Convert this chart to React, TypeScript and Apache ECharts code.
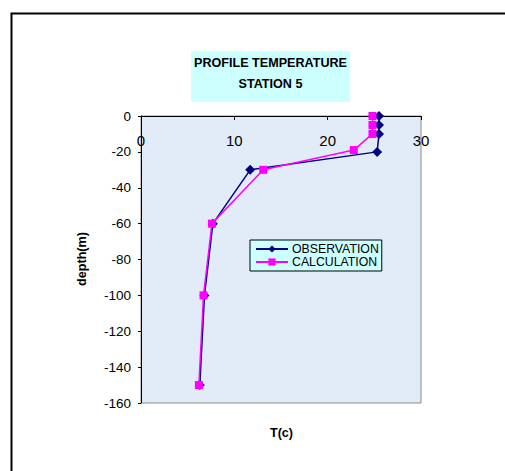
import React, { useEffect, useRef } from "react";
import * as echarts from "echarts";

const obsDepth = [0, -5, -10, -20, -30, -60, -100, -150];
const obsTemp = [25.5, 25.5, 25.5, 25.3, 11.7, 7.7, 6.8, 6.3];
const calcDepth = [0, -5, -10, -19, -30, -60, -100, -150];
const calcTemp = [24.8, 24.8, 24.8, 22.8, 13.1, 7.6, 6.7, 6.2];
const titleLines = ["PROFILE TEMPERATURE", "STATION 5"];
const seriesNames = ["OBSERVATION", "CALCULATION"];

export default function App() {
  const ref = useRef<HTMLDivElement>(null);
  useEffect(() => {
    if (!ref.current) return;
    const chart = echarts.init(ref.current, null, { renderer: "svg" });
    const font = "Arial, 'Liberation Sans', sans-serif";
    chart.setOption({
      animation: false,
      backgroundColor: "#ffffff",
      textStyle: { fontFamily: font },
      grid: {
        left: 141,
        top: 116,
        width: 280,
        height: 287,
        show: true,
        backgroundColor: "#e2ecf8",
        borderColor: "#8a8a8a",
        borderWidth: 1,
      },
      legend: {
        orient: "vertical",
        left: 250,
        top: 240,
        data: seriesNames,
        backgroundColor: "#ccffff",
        borderColor: "#000",
        borderWidth: 1,
        padding: [3, 3, 3, 5],
        itemGap: 1,
        itemWidth: 32,
        itemHeight: 9,
        textStyle: { fontSize: 12.3, color: "#000", fontFamily: font, padding: [0, 0, 0, -1] },
      },
      xAxis: {
        type: "value",
        position: "top",
        min: 0,
        max: 30,
        interval: 10,
        axisLine: { show: true, onZero: false, lineStyle: { color: "#000", width: 1 } },
        axisTick: { show: true, inside: true, length: 4, lineStyle: { color: "#000" } },
        axisLabel: { inside: true, margin: 17, fontSize: 15, color: "#000", fontFamily: font },
        splitLine: { show: false },
      },
      yAxis: {
        type: "value",
        min: -160,
        max: 0,
        interval: 20,
        axisLine: { show: true, onZero: false, lineStyle: { color: "#000", width: 1 } },
        axisTick: { show: true, inside: false, length: 3, lineStyle: { color: "#000" } },
        axisLabel: { margin: 10, fontSize: 13.5, color: "#000", fontFamily: font },
        splitLine: { show: false },
      },
      series: [
        {
          name: seriesNames[0],
          type: "line",
          data: obsTemp.map((t, i) => [t, obsDepth[i]]),
          color: "#000080",
          lineStyle: { color: "#000080", width: 1.5 },
          symbol: "diamond",
          symbolSize: 10,
          itemStyle: { color: "#000080" },
          z: 2,
        },
        {
          name: seriesNames[1],
          type: "line",
          data: calcTemp.map((t, i) => [t, calcDepth[i]]),
          color: "#ff00ff",
          lineStyle: { color: "#ff00ff", width: 1.5 },
          symbol: "rect",
          symbolSize: 8,
          itemStyle: { color: "#ff00ff" },
          z: 3,
        },
      ],
      graphic: [
        {
          type: "rect",
          left: 9,
          top: 11,
          shape: { width: 700, height: 700 },
          style: { fill: "none", stroke: "#000", lineWidth: 2 },
          z: 0,
          silent: true,
        },
        {
          type: "rect",
          shape: { x: 191, y: 51, width: 159, height: 51 },
          style: { fill: "#ccffff" },
        },
        {
          type: "text",
          x: 270.5,
          y: 63,
          style: {
            text: titleLines[0],
            font: `bold 12.6px ${font}`,
            fill: "#000",
            align: "center",
            verticalAlign: "middle",
          },
        },
        {
          type: "text",
          x: 270.5,
          y: 84,
          style: {
            text: titleLines[1],
            font: `bold 12.6px ${font}`,
            fill: "#000",
            align: "center",
            verticalAlign: "middle",
          },
        },
        {
          type: "text",
          x: 81.5,
          y: 259,
          rotation: Math.PI / 2,
          style: {
            text: "depth(m)",
            font: `bold 12.6px ${font}`,
            fill: "#000",
            align: "center",
            verticalAlign: "middle",
          },
        },
        {
          type: "text",
          x: 281.5,
          y: 433,
          style: {
            text: "T(c)",
            font: `bold 12.6px ${font}`,
            fill: "#000",
            align: "center",
            verticalAlign: "middle",
          },
        },
      ],
    });
    return () => chart.dispose();
  }, []);
  return (
    <div
      ref={ref}
      style={{ position: "fixed", left: 0, top: 0, width: 505, height: 471 }}
    />
  );
}
